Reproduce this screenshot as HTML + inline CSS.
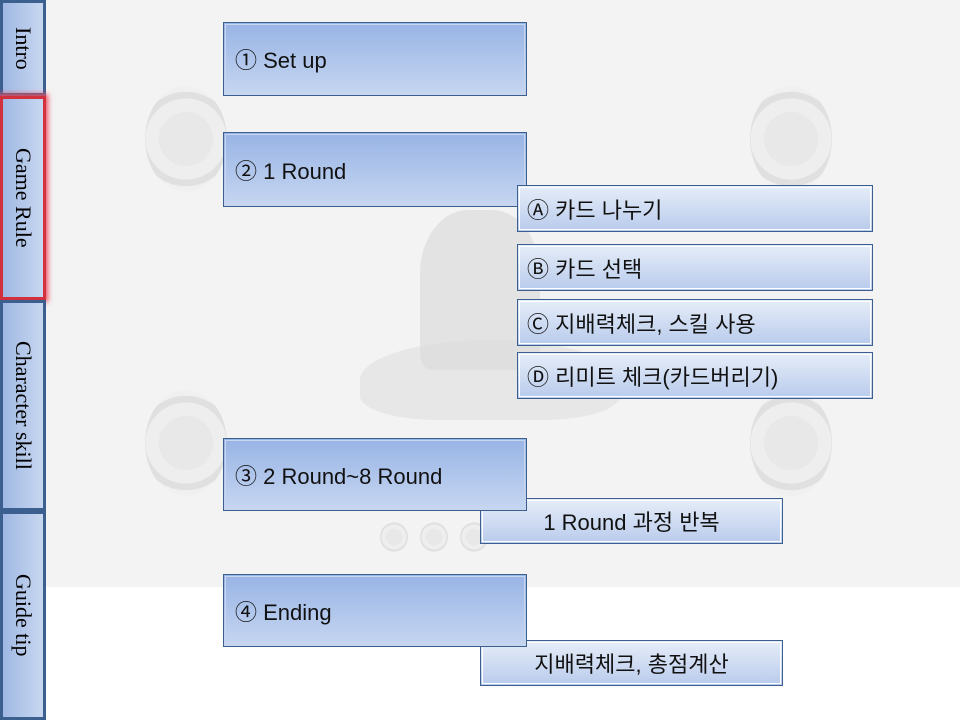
<!DOCTYPE html>
<html><head><meta charset="utf-8"><style>
*{margin:0;padding:0;box-sizing:border-box}
body{width:960px;height:720px;position:relative;background:#fff;overflow:hidden;font-family:"Liberation Sans","Noto Sans CJK KR",sans-serif}
.bg{position:absolute;left:46px;top:0;width:914px;height:587px;background:#f3f3f3}
.coin{position:absolute;border-radius:50%;background:radial-gradient(circle,#e8e8e8 0 40%,#eeeeee 41% 60%,#e0e0e0 61% 70%,#f0f0f0 71%)}
.fig{position:absolute;background:#dcdcdc;opacity:.7}
.tab{position:absolute;left:0;width:46px;border:3px solid #3b5f8f;background:linear-gradient(to right,#9fb8e3,#c8d7f0);writing-mode:vertical-rl;font-family:"Liberation Serif",serif;font-size:22px;display:flex;align-items:center;justify-content:center;color:#000}
.big{position:absolute;left:223px;width:304px;border:1px solid #3b5f8f;outline:1px solid #c8d5ee;outline-offset:-3px;background:linear-gradient(#98b4e5,#c6d6f1);font-size:22px;padding-left:11px;display:flex;align-items:center;color:#111}
.sm{position:absolute;left:517px;width:356px;border:1px solid #3b5f8f;outline:1px solid #fff;outline-offset:-3px;background:linear-gradient(#e6edf8,#b9cbec);font-size:22px;padding-left:9px;display:flex;align-items:center;color:#111}
.sub{position:absolute;left:480px;width:303px;height:46px;border:1px solid #3b5f8f;outline:1px solid #fff;outline-offset:-3px;background:linear-gradient(#e6edf8,#b9cbec);font-size:22px;display:flex;align-items:center;justify-content:center;color:#111}
</style></head><body>
<div class="bg"></div>
<div class="coin" style="left:145px;top:86px;width:82px;height:106px"></div>
<div class="coin" style="left:750px;top:86px;width:82px;height:106px"></div>
<div class="coin" style="left:145px;top:390px;width:82px;height:106px"></div>
<div class="coin" style="left:750px;top:390px;width:82px;height:106px"></div>
<div class="fig" style="left:420px;top:210px;width:120px;height:160px;border-radius:40% 40% 10% 10%"></div>
<div class="fig" style="left:360px;top:340px;width:260px;height:80px;border-radius:50% 50% 30% 30%;opacity:.5"></div>
<div class="coin" style="left:380px;top:522px;width:28px;height:30px"></div>
<div class="coin" style="left:420px;top:522px;width:28px;height:30px"></div>
<div class="coin" style="left:460px;top:522px;width:28px;height:30px"></div>

<div class="tab" style="top:0;height:96px">Intro</div>
<div class="tab" style="top:96px;height:204px;border-color:#d3303e;box-shadow:0 0 5px 2px #f05060">Game Rule</div>
<div class="tab" style="top:300px;height:211px">Character skill</div>
<div class="tab" style="top:511px;height:209px">Guide tip</div>

<div class="big" style="top:22px;height:74px">① Set up</div>
<div class="big" style="top:132px;height:75px">② 1 Round</div>
<div class="sm" style="top:185px;height:47px">Ⓐ 카드 나누기</div>
<div class="sm" style="top:244px;height:47px">Ⓑ 카드 선택</div>
<div class="sm" style="top:299px;height:47px">Ⓒ 지배력체크, 스킬 사용</div>
<div class="sm" style="top:352px;height:47px">Ⓓ 리미트 체크(카드버리기)</div>
<div class="sub" style="top:498px">1 Round 과정 반복</div>
<div class="big" style="top:438px;height:73px">③ 2 Round~8 Round</div>
<div class="sub" style="top:640px">지배력체크, 총점계산</div>
<div class="big" style="top:574px;height:73px">④ Ending</div>
</body></html>
